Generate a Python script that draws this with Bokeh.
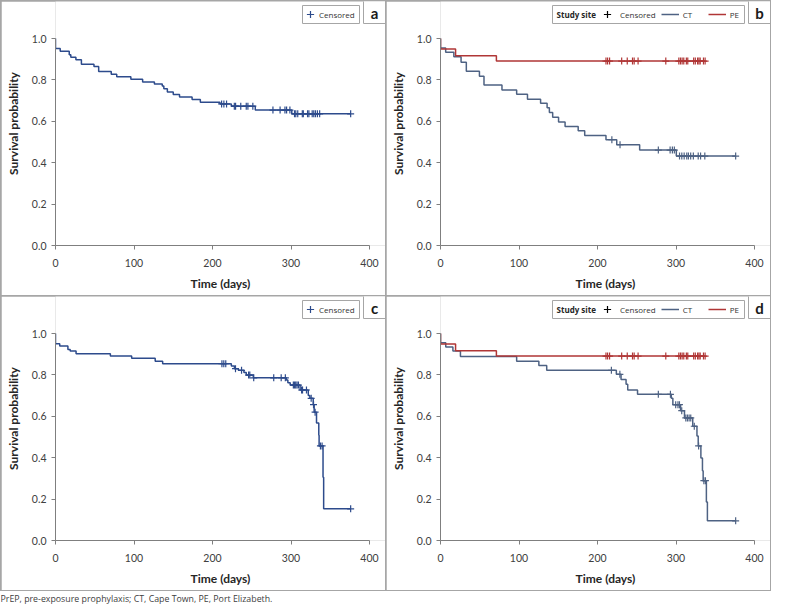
from bokeh.plotting import figure
from bokeh.layouts import row, column
from bokeh.models import (Range1d, FixedTicker, NumeralTickFormatter, BoxAnnotation,
                          Label, Legend, LegendItem)
from bokeh.embed import file_html
from bokeh.resources import INLINE

# ---------------- data ----------------
X_TICKS = [0, 100, 200, 300, 400]
Y_TICKS = [0.0, 0.2, 0.4, 0.6, 0.8, 1.0]

# Panel a: all participants
A_EVENT_T = [0, 6, 17.5, 19.5, 26, 33, 49, 55, 71, 78, 96, 111, 126, 136, 138, 142.5,
             150, 158, 174, 184.5, 209.5, 224, 254.5, 301]
A_EVENT_S = [0.952, 0.938, 0.921, 0.910, 0.897, 0.876, 0.865, 0.841, 0.827, 0.815, 0.803,
             0.790, 0.780, 0.770, 0.757, 0.741, 0.729, 0.717, 0.705, 0.692, 0.684, 0.673,
             0.654, 0.636]
A_CENS_T = [211.6, 214.5, 217.9, 227.8, 229.4, 236, 243, 245.1, 251.4, 277, 286.1, 292.3,
            294.4, 298.6, 304.5, 306.1, 308.6, 314.4, 315.7, 321.1, 322.8, 327, 329, 331.1,
            333.6, 336.5, 376]

# Panel b: by study site
B_CT_EVENT_T = [0, 6.6, 17, 26.2, 32.9, 49.6, 55.4, 78.3, 97, 110.8, 127.5, 135.8, 138.7,
                142.9, 150.4, 158.7, 175.4, 183.7, 210.8, 224.5, 253.7, 300.4]
B_CT_EVENT_S = [0.954, 0.933, 0.912, 0.885, 0.842, 0.818, 0.775, 0.751, 0.731, 0.706, 0.687,
                0.666, 0.642, 0.620, 0.597, 0.575, 0.554, 0.532, 0.511, 0.487, 0.461, 0.432]
B_CT_CENS_T = [218.3, 228.7, 277.5, 292.5, 295.4, 297.9, 304.5, 307.4, 310.4, 313.7, 315.8,
               318.7, 322.1, 328.3, 331.3, 336.7, 376]

PE_EVENT_T = [0, 19.2, 71.2]
PE_EVENT_S = [0.949, 0.917, 0.891]
PE_CENS_T = [210.8, 212.9, 215.4, 230.8, 237.9, 244.6, 246.7, 251.7, 287, 303.6, 305.7,
             307.8, 309.9, 313.2, 315, 322.5, 324.6, 327.5, 329.2, 330.8, 335, 337.1]

# Panel c: all participants (second outcome)
C_EVENT_T = [0, 5.4, 15.8, 18.7, 26.2, 69.9, 97, 127, 136.5, 224, 228, 233, 240, 243, 252,
             294, 296, 299, 311.6, 322, 324, 328.3, 329.5, 332.5, 335.4, 335.8, 340.8, 341.6]
C_EVENT_S = [0.951, 0.940, 0.923, 0.915, 0.902, 0.891, 0.880, 0.866, 0.854, 0.843, 0.830,
             0.822, 0.811, 0.799, 0.786, 0.775, 0.762, 0.751, 0.727, 0.700, 0.687, 0.656,
             0.620, 0.568, 0.509, 0.457, 0.305, 0.153]
C_CENS_T = [212, 214.4, 216.9, 229.3, 237, 246, 247.5, 252.5, 278, 287.5, 292.8, 303, 304.5,
            306, 307.7, 309.5, 313.5, 314.7, 319.7, 325.7, 328.7, 330.7, 337.5, 339.6, 376]

# Panel d: by study site (second outcome)
D_CT_EVENT_T = [0, 6.7, 15.8, 25.4, 97, 125.3, 135.3, 224, 230, 236.4, 238.5, 251, 294, 296,
                305.8, 310.8, 321.3, 326.7, 328.3, 331.7, 333.7, 334.6, 338.7, 340]
D_CT_EVENT_S = [0.955, 0.935, 0.915, 0.889, 0.866, 0.845, 0.822, 0.803, 0.778, 0.755, 0.727,
                0.706, 0.687, 0.656, 0.627, 0.592, 0.552, 0.505, 0.457, 0.398, 0.337, 0.289,
                0.186, 0.095]
D_CT_CENS_T = [217.7, 228.5, 277.5, 292.9, 299.6, 302.5, 304.4, 307.3, 312.5, 314.6, 316.7,
               318.8, 323.3, 328.8, 335.5, 337.5, 376]

PANEL_LETTERS = ["a", "b", "c", "d"]
FOOTNOTE = "PrEP, pre-exposure prophylaxis; CT, Cape Town, PE, Port Elizabeth."

# ---------------- styling ----------------
BLUE = "#2d4b8c"
CT_COL = "#4e6283"
PE_COL = "#b03636"
BORDER = "#a6a6a6"
AXIS_COL = "#7f7f7f"
FONT_AX = "Lato"
FONT_LEG = "Open Sans"

FW, FHT = 384, 294
ML, MB = 54, 50
FRAME_W = FW - ML
FRAME_H = FHT - MB
PPX = 0.785
PPY = 207.0
X_END = FRAME_W / PPX
Y_END = FRAME_H / PPY


def dx(px):
    return px / PPX


def dy(py):
    return (FRAME_H - py) / PPY


def km_xy(event_t, event_s, end_t):
    xs = [0.0] + list(event_t) + [end_t]
    ys = [1.0] + list(event_s) + [event_s[-1]]
    return xs, ys


def surv_at(t, event_t, event_s):
    s = 1.0
    for et, es in zip(event_t, event_s):
        if et <= t:
            s = es
    return s


def make_panel(letter):
    p = figure(width=FW, height=FHT, x_range=Range1d(0, X_END), y_range=Range1d(0, Y_END),
               output_backend="svg", toolbar_location=None,
               min_border_left=ML, min_border_right=0, min_border_top=0, min_border_bottom=MB)
    p.outline_line_color = None
    p.grid.visible = False
    p.background_fill_color = "white"
    p.border_fill_color = "white"
    xa, ya = p.xaxis[0], p.yaxis[0]
    xa.bounds = (0, 400)
    ya.bounds = (0, 1)
    xa.ticker = FixedTicker(ticks=X_TICKS)
    ya.ticker = FixedTicker(ticks=Y_TICKS)
    ya.formatter = NumeralTickFormatter(format="0.0")
    for ax in (xa, ya):
        ax.axis_line_color = AXIS_COL
        ax.major_tick_line_color = AXIS_COL
        ax.major_tick_out = 4
        ax.major_tick_in = 0
        ax.minor_tick_line_color = None
        ax.major_label_text_font = FONT_AX
        ax.major_label_text_font_size = "10.5px"
        ax.major_label_text_color = "#404040"
        ax.axis_label_text_font = FONT_AX
        ax.axis_label_text_font_style = "bold"
        ax.axis_label_text_font_size = "12px"
        ax.axis_label_text_color = "#262626"
    xa.axis_label = "Time (days)"
    ya.axis_label = "Survival probability"
    xa.major_label_standoff = 9
    ya.major_label_standoff = 5
    xa.axis_label_standoff = 6
    ya.axis_label_standoff = 8
    # panel letter box
    p.add_layout(BoxAnnotation(left=dx(FRAME_W - 22), right=dx(FRAME_W + 3), top=dy(-3),
                               bottom=dy(22), fill_color="white", fill_alpha=1,
                               line_color=BORDER, line_alpha=1, line_width=1))
    p.add_layout(Label(x=dx(FRAME_W - 11), y=dy(11), text=letter, text_align="center",
                       text_baseline="middle", text_font=FONT_AX, text_font_style="bold",
                       text_font_size="15px", text_color="#1a1a1a"))
    return p


def legend_box(p, left_px, right_px):
    p.add_layout(BoxAnnotation(left=dx(left_px), right=dx(right_px), top=dy(4), bottom=dy(22),
                               fill_color="white", fill_alpha=1, line_color=BORDER,
                               line_alpha=1, line_width=1))


def make_legend(items, x_px, standoff):
    return Legend(items=items, orientation="horizontal", location=(x_px, FRAME_H - 22),
                  border_line_color=None, background_fill_alpha=0, margin=0, padding=0,
                  spacing=5, glyph_width=18, glyph_height=18, label_standoff=standoff,
                  label_text_font=FONT_LEG, label_text_font_size="8px",
                  label_text_color="#333333")


def single_panel(letter, ev_t, ev_s, cens_t):
    p = make_panel(letter)
    xs, ys = km_xy(ev_t, ev_s, max(cens_t))
    p.step(xs, ys, mode="after", line_color=BLUE, line_width=1.5)
    cy = [surv_at(t, ev_t, ev_s) for t in cens_t]
    cr = p.scatter(cens_t, cy, marker="cross", size=7, line_color=BLUE, line_width=1.2)
    box_r = FRAME_W - 26
    box_l = box_r - 57
    legend_box(p, box_l, box_r)
    p.add_layout(make_legend([LegendItem(label="Censored", renderers=[cr])], box_l - 1, 0))
    return p


def site_panel(letter, ct_t, ct_s, ct_c):
    p = make_panel(letter)
    xs, ys = km_xy(ct_t, ct_s, max(ct_c))
    ct_line = p.step(xs, ys, mode="after", line_color=CT_COL, line_width=1.5)
    xs2, ys2 = km_xy(PE_EVENT_T, PE_EVENT_S, max(PE_CENS_T))
    pe_line = p.step(xs2, ys2, mode="after", line_color=PE_COL, line_width=1.5)
    ct_y = [surv_at(t, ct_t, ct_s) for t in ct_c]
    # legend key: black cross; size 0 so nothing shows in the plot area
    key = p.scatter(ct_c, ct_y, marker="cross", size=0, line_color="black", line_width=1.2)
    p.scatter(ct_c, ct_y, marker="cross", size=7, line_color=CT_COL, line_width=1.2)
    p.scatter(PE_CENS_T, [surv_at(t, PE_EVENT_T, PE_EVENT_S) for t in PE_CENS_T],
              marker="cross", size=7, line_color=PE_COL, line_width=1.2)
    box_r = FRAME_W - 26
    box_l = box_r - 192
    legend_box(p, box_l, box_r)
    p.add_layout(Label(x=dx(box_l + 4), y=dy(13), text="Study site", text_baseline="middle",
                       text_font=FONT_LEG, text_font_style="bold", text_font_size="8px",
                       text_color="#262626"))
    items = [LegendItem(label="Censored", renderers=[key]),
             LegendItem(label="CT", renderers=[ct_line]),
             LegendItem(label="PE", renderers=[pe_line])]
    p.add_layout(make_legend(items, box_l + 46, 4))
    return p


pa = single_panel(PANEL_LETTERS[0], A_EVENT_T, A_EVENT_S, A_CENS_T)
pb = site_panel(PANEL_LETTERS[1], B_CT_EVENT_T, B_CT_EVENT_S, B_CT_CENS_T)
pc = single_panel(PANEL_LETTERS[2], C_EVENT_T, C_EVENT_S, C_CENS_T)
pd = site_panel(PANEL_LETTERS[3], D_CT_EVENT_T, D_CT_EVENT_S, D_CT_CENS_T)

foot = figure(width=771, height=14, x_range=Range1d(0, 1), y_range=Range1d(0, 1),
              output_backend="svg", toolbar_location=None, min_border=0,
              x_axis_location=None, y_axis_location=None)
foot.grid.visible = False
foot.outline_line_color = None
foot.add_layout(Label(x=0, y=0.5, text=FOOTNOTE, text_baseline="middle", text_font=FONT_LEG,
                      text_font_size="8.8px", text_color="#404040"))

grid = column(row(pa, pb, spacing=1), row(pc, pd, spacing=1), spacing=1,
              styles={"background-color": BORDER, "padding": "1px"})
root = column(grid, foot)

open("out.html", "w").write(file_html(root, INLINE))
